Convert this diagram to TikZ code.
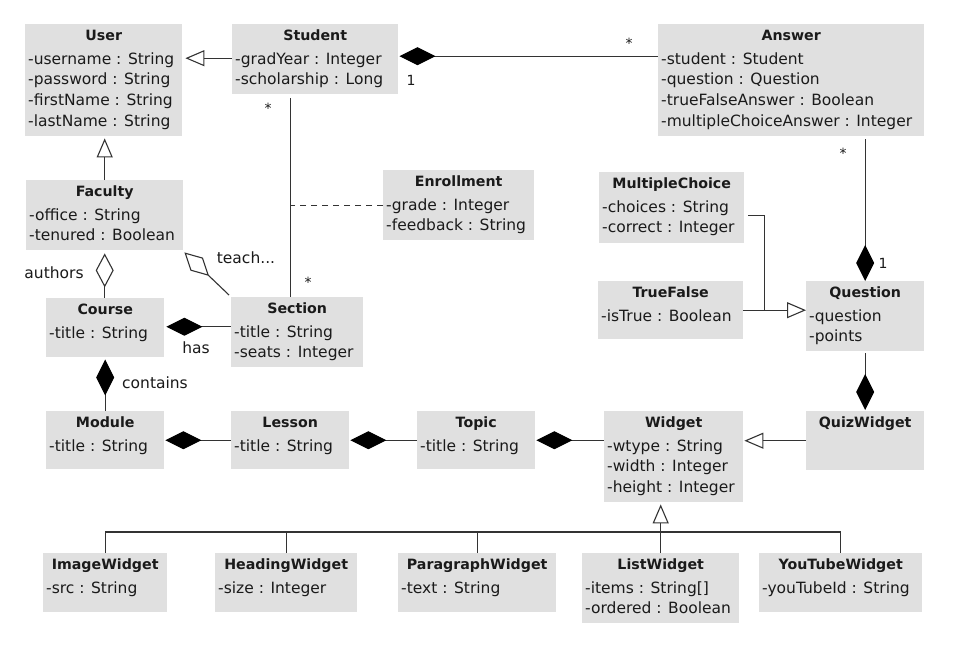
\documentclass[tikz,border=0pt]{standalone}
\usepackage{fontspec}
\setmainfont{DejaVu Sans}
\usetikzlibrary{arrows.meta}
\definecolor{boxgray}{HTML}{E0E0E0}
\definecolor{linec}{HTML}{333333}
\definecolor{txt}{HTML}{1A1A1A}
\tikzset{
 cbox/.style={fill=boxgray, draw=none, inner sep=0pt, anchor=north west},
 ctitle/.style={font=\fontsize{14.2}{16}\selectfont\bfseries, text=txt, inner sep=0pt, anchor=base},
 cattr/.style={font=\fontsize{15.5}{18}\selectfont, text=txt, inner sep=0pt, anchor=base west},
 lbl/.style={font=\fontsize{15.5}{18}\selectfont, text=txt, inner sep=0pt},
 mult/.style={font=\fontsize{14}{16}\selectfont, text=txt, inner sep=0pt},
 conn/.style={draw=linec, line width=1.1pt},
 gen/.style={conn, -{Triangle[open, length=19pt, width=16pt]}},
 comp/.style={conn, {Diamond[length=36pt, width=18pt, color=black, fill=black]}-},
 agg/.style={conn, {Diamond[open, length=34pt, width=18pt]}-},
}
\newcommand\umlclass[7]{%
 \node[cbox, minimum width=#4pt, minimum height=#5pt] (#1) at (#2,#3) {};
 \node[ctitle] (#1-t) at ([yshift=-16pt]#1.north) {#6};
 \foreach \a [count=\i] in {#7} {\node[cattr] (#1-\i) at ([xshift=3pt, yshift={-19.3pt-20.7pt*\i}]#1.north west) {\a};}
}
\begin{document}
\begin{tikzpicture}[x=1pt, y=-1pt]
\useasboundingbox[fill=white] (0,0) rectangle (960,645);
% classes
\umlclass{user}{25}{24}{157}{112}{User}{-username : String, -password : String, -firstName : String, -lastName : String}
\umlclass{student}{232}{24}{166}{70}{Student}{-gradYear : Integer, -scholarship : Long}
\umlclass{answer}{658}{24}{266}{112}{Answer}{-student : Student, -question : Question, -trueFalseAnswer : Boolean, -multipleChoiceAnswer : Integer}
\umlclass{faculty}{26}{180}{157}{70}{Faculty}{-office : String, -tenured : Boolean}
\umlclass{enrollment}{383}{170}{151}{70}{Enrollment}{-grade : Integer, -feedback : String}
\umlclass{mc}{599}{172}{145}{71}{MultipleChoice}{-choices : String, -correct : Integer}
\umlclass{course}{46}{298}{118}{59}{Course}{-title : String}
\umlclass{section}{231}{297}{132}{70}{Section}{-title : String, -seats : Integer}
\umlclass{tf}{598}{281}{145}{58}{TrueFalse}{-isTrue : Boolean}
\umlclass{question}{806}{281}{118}{70}{Question}{-question, -points}
\umlclass{module}{46}{411}{118}{58}{Module}{-title : String}
\umlclass{lesson}{231}{411}{118}{58}{Lesson}{-title : String}
\umlclass{topic}{417}{411}{118}{58}{Topic}{-title : String}
\umlclass{widget}{604}{411}{139}{91}{Widget}{-wtype : String, -width : Integer, -height : Integer}
\node[cbox, minimum width=118pt, minimum height=59pt] (quiz) at (806,411) {};
\node[ctitle] (quiz-t) at ([yshift=-16pt]quiz.north) {QuizWidget};
\umlclass{image}{43}{553}{124}{59}{ImageWidget}{-src : String}
\umlclass{heading}{215}{553}{142}{59}{HeadingWidget}{-size : Integer}
\umlclass{paragraph}{398}{553}{158}{59}{ParagraphWidget}{-text : String}
\umlclass{list}{582}{553}{157}{70}{ListWidget}{-items : String[], -ordered : Boolean}
\umlclass{youtube}{759}{553}{163}{59}{YouTubeWidget}{-youTubeId : String}
% connectors
\draw[gen, shorten >=3pt] ([yshift=1pt]student.west) -- ([yshift=1pt]student.west -| user.east);
\draw[comp, shorten <=1pt] ([yshift=3pt]student.east) -- ([yshift=3pt]student.east -| answer.west);
\node[mult] (m1) at (411,80) {1};
\node[mult] (m2) at (629,43) {*};
\draw[gen, shorten >=2pt] (faculty.north) -- (faculty.north |- user.south);
\draw[conn] ([xshift=-25pt, yshift=-4pt]student.south) coordinate (ssTop) -- (ssTop |- section.north) coordinate (ssBot);
\node[mult] (m3) at (268,108) {*};
\node[mult] (m4) at (308,282) {*};
\draw[conn, dashed, dash pattern=on 6pt off 5pt] (enrollment.west) -- (enrollment.west -| ssTop);
\draw[agg, shorten <=3pt] (faculty.south) -- (faculty.south |- course.north);
\node[lbl] (lauth) at (54,273) {authors};
\draw[agg] ([xshift=1pt, yshift=-2pt]faculty.south east) -- ([xshift=-2pt, yshift=2pt]section.north west);
\node[lbl] (lteach) at (246,258) {teach...};
\draw[comp, shorten <=2pt] ([yshift=1pt]course.east) -- ([yshift=1pt]course.east -| section.west);
\node[lbl] (lhas) at (196,348) {has};
\draw[comp, shorten <=2pt] (course.south) -- (module.north);
\node[lbl] (lcont) at (155,383) {contains};
\draw[comp, shorten <=1pt] (module.east) -- (lesson.west);
\draw[comp, shorten <=1pt] (lesson.east) -- (topic.west);
\draw[comp, shorten <=1pt] (topic.east) -- (topic.east -| widget.west);
\draw[gen, shorten >=1pt] (quiz.west) -- (quiz.west -| widget.east);
\draw[comp, shorten <=1pt, shorten >=2pt] (quiz.north) -- (question.south);
\draw[comp, shorten >=3pt] (question.north) -- (question.north |- answer.south);
\node[mult] (m5) at (843,153) {*};
\node[mult] (m6) at (883,263) {1};
\draw[gen] (tf.east) -- (tf.east -| question.west);
\draw[conn] ([xshift=4pt, yshift=-8pt]mc.east) -| ([xshift=21pt]tf.east);
\draw[gen, shorten >=2pt] (list.north) -- (list.north |- widget.south);
\coordinate (bus) at (0,532);
\draw[conn] (image.north) |- (bus -| youtube.north) -- (youtube.north);
\draw[conn] (heading.north) -- (heading.north |- bus);
\draw[conn] (paragraph.north) -- (paragraph.north |- bus);
\end{tikzpicture}
\end{document}
